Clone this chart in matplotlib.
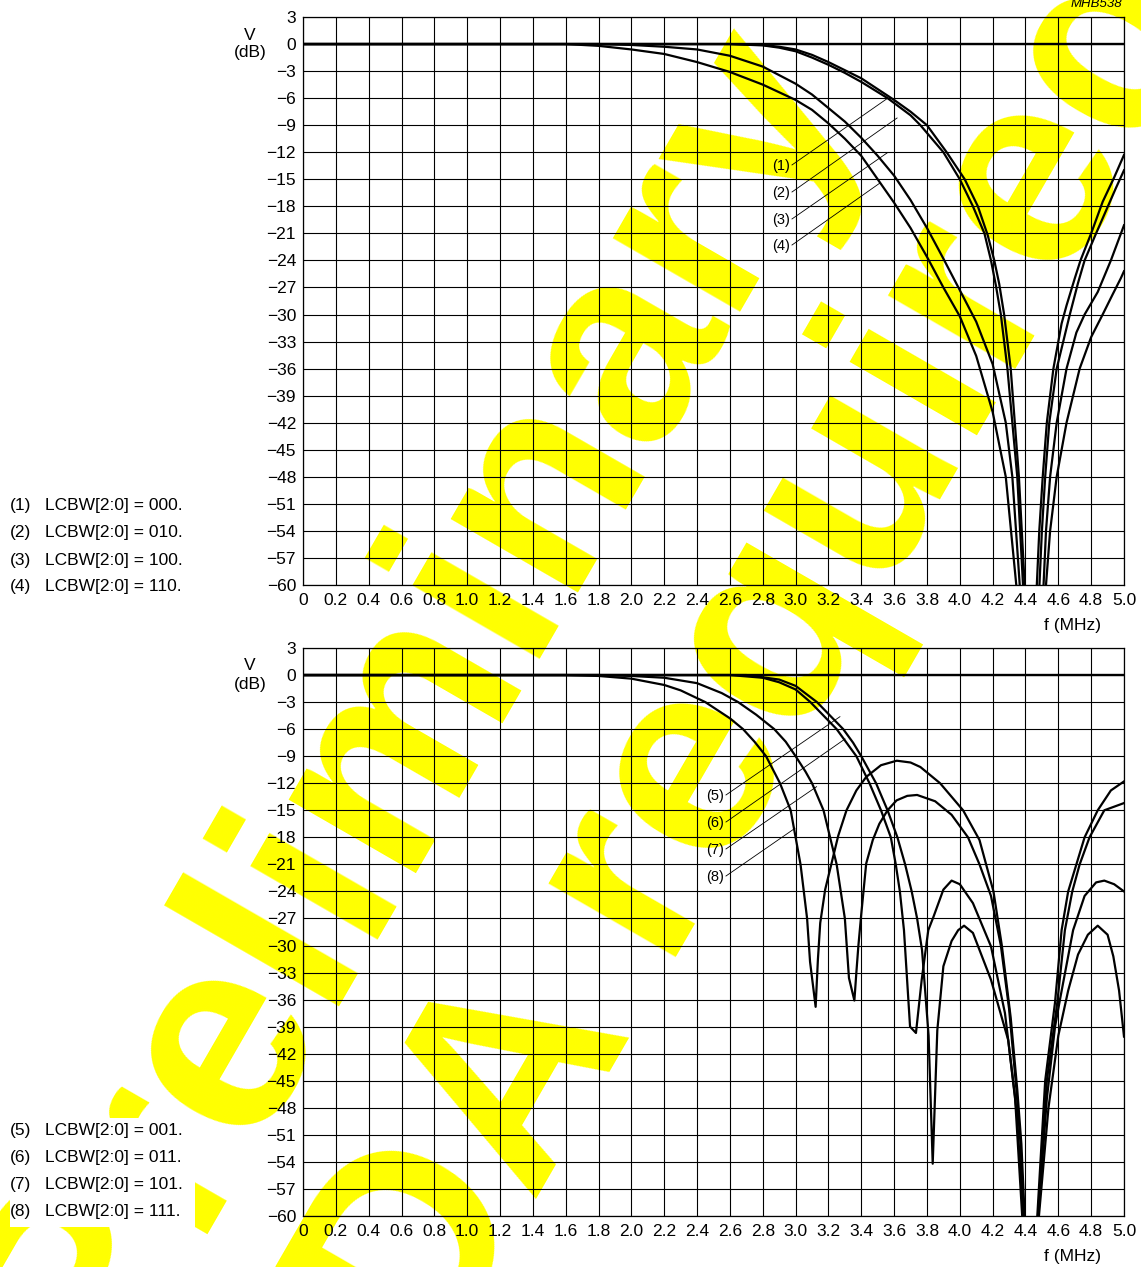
import numpy as np
import matplotlib
matplotlib.use("Agg")
import matplotlib.pyplot as plt
from matplotlib.patches import Rectangle

plt.rcParams['font.family'] = ['Liberation Sans', 'DejaVu Sans']

nan = np.nan

# Values: f in MHz, V in dB. nan marks the notch that drops below -60 dB.
# Upper graph
f1 = [0, 2.6, 2.8, 2.9, 3.0, 3.1, 3.2, 3.3, 3.4, 3.56, 3.7, 3.76, 3.9, 4.0, 4.08, 4.15, 4.19, 4.22, 4.25, 4.29, 4.32, 4.35, 4.385,
      nan, 4.485, 4.50, 4.52, 4.545, 4.59, 4.67, 4.72, 4.76, 4.83, 4.89, 4.95, 5.0]
v1 = [0, 0, -0.15, -0.4, -0.8, -1.5, -2.3, -3.2, -4.2, -6.0, -7.9, -9.0, -12.0, -15.0, -18.0, -21.0, -24.0, -26.8, -30.0, -36.0, -42.0, -48.0, -60,
      nan, -60, -54, -48, -42, -36, -30, -26.5, -24, -21, -18.5, -16, -14.0]

f2 = [0, 2.6, 2.8, 2.9, 3.0, 3.1, 3.2, 3.3, 3.4, 3.5, 3.6, 3.7, 3.8, 3.92, 4.03, 4.11, 4.17, 4.21, 4.24, 4.27, 4.31, 4.335, 4.36, 4.395,
      nan, 4.469, 4.484, 4.505, 4.53, 4.57, 4.62, 4.65, 4.70, 4.735, 4.80, 4.87, 4.94, 5.0]
v2 = [0, 0, -0.1, -0.3, -0.6, -1.2, -2.0, -2.9, -3.8, -5.0, -6.2, -7.5, -9.0, -12.0, -15.0, -18.0, -21.2, -24.0, -26.6, -30.0, -36.0, -42.0, -48.0, -60,
      nan, -60, -54, -48, -42, -36, -31, -29, -26, -24, -21, -17.5, -14.8, -12.3]

f3 = [0, 1.8, 2.0, 2.2, 2.4, 2.6, 2.8, 3.0, 3.1, 3.2, 3.3, 3.4, 3.5, 3.6, 3.7, 3.8, 3.9, 4.0, 4.1, 4.2, 4.28, 4.32, 4.365,
      nan, 4.51, 4.525, 4.55, 4.59, 4.65, 4.71, 4.76, 4.84, 4.92, 5.0]
v3 = [0, 0, -0.1, -0.3, -0.6, -1.3, -2.5, -4.4, -5.6, -7.1, -8.6, -10.4, -12.4, -14.6, -17.3, -20.4, -23.8, -27.3, -30.8, -35.5, -42, -48, -60,
      nan, -60, -54, -48, -42, -36, -32, -30, -27.5, -24, -20.1]

f4 = [0, 1.6, 1.8, 2.0, 2.2, 2.4, 2.6, 2.8, 3.0, 3.1, 3.2, 3.3, 3.4, 3.5, 3.6, 3.7, 3.8, 3.9, 4.0, 4.1, 4.2, 4.28, 4.344,
      nan, 4.525, 4.55, 4.59, 4.65, 4.73, 4.8, 4.87, 4.93, 4.98, 5.0]
v4 = [0, 0, -0.2, -0.6, -1.1, -2.0, -3.1, -4.5, -6.2, -7.3, -8.8, -10.5, -12.4, -15.0, -17.6, -20.4, -23.6, -27.0, -30.2, -34.6, -40.8, -48.0, -60,
      nan, -60, -54, -48, -42, -36, -32.5, -30, -27.8, -26, -25.2]

# Lower graph
f5 = [0, 2.7, 2.9, 3.0, 3.13, 3.21, 3.29, 3.35, 3.40, 3.49, 3.56, 3.62, 3.667, 3.707, 3.74, 3.77, 3.81, 3.835, 3.863, 3.90,
      3.95, 3.99, 4.026, 4.08, 4.19, 4.295, 4.347, 4.387,
      nan, 4.482, 4.54, 4.6, 4.66, 4.72, 4.78, 4.84, 4.9, 4.935, 4.97, 5.0]
v5 = [0, 0, -0.5, -1.2, -3.0, -4.5, -6.0, -7.5, -9.0, -12.0, -15.0, -18.0, -21.0, -24.0, -27.0, -30.5, -40.0, -54.2, -39.4, -32.3,
      -29.5, -28.3, -27.8, -28.6, -33.8, -40.5, -48.6, -60,
      nan, -60, -48, -40, -35, -31, -28.8, -27.8, -28.8, -31.2, -35, -40.1]

f6 = [0, 2.6, 2.8, 2.9, 3.0, 3.09, 3.17, 3.25, 3.31, 3.37, 3.45, 3.52, 3.58, 3.61, 3.635, 3.66, 3.697, 3.733, 3.768, 3.808,
      3.84, 3.90, 3.95, 4.0, 4.08, 4.19, 4.275, 4.336, 4.38,
      nan, 4.478, 4.53, 4.58, 4.61, 4.69, 4.76, 4.83, 4.88, 4.94, 5.0]
v6 = [0, 0, -0.3, -0.8, -1.6, -3.0, -4.5, -6.0, -7.5, -9.0, -12.0, -15.0, -18.0, -21.0, -24.0, -28.3, -39.0, -39.7, -33.8, -28.3,
      -26.8, -23.8, -22.8, -23.2, -25.3, -30.1, -37.5, -46.7, -60,
      nan, -60, -47, -39, -36, -28.3, -24.5, -23.0, -22.8, -23.2, -24.0]

f7 = [0, 1.8, 2.0, 2.2, 2.4, 2.55, 2.65, 2.76, 2.87, 2.94, 3.0, 3.06, 3.1, 3.17, 3.21, 3.25, 3.3, 3.325, 3.358, 3.37, 3.382,
      3.40, 3.43, 3.47, 3.51, 3.56, 3.615, 3.68, 3.74, 3.85, 3.95, 4.05, 4.12, 4.19, 4.25, 4.3, 4.345, 4.37, 4.39,
      nan, 4.476, 4.53, 4.594, 4.64, 4.685, 4.73, 4.79, 4.88, 5.0]
v7 = [0, 0, -0.1, -0.3, -0.9, -2.0, -3.0, -4.4, -6.0, -7.4, -9.0, -10.7, -12.0, -15.0, -18.0, -21.0, -27.0, -33.6, -36.1, -33.0, -30.1,
      -26.5, -20.9, -18.3, -16.5, -15.0, -13.9, -13.4, -13.3, -14.0, -15.5, -18.0, -21.0, -24.5, -30, -37, -46, -52, -60,
      nan, -60, -45, -36.3, -28.3, -24, -21, -18, -15, -14.2]

f8 = [0, 1.6, 1.8, 2.0, 2.2, 2.3, 2.45, 2.6, 2.68, 2.75, 2.82, 2.905, 2.97, 3.0, 3.03, 3.07, 3.088, 3.122, 3.136, 3.15,
      3.18, 3.22, 3.26, 3.31, 3.37, 3.43, 3.52, 3.616, 3.7, 3.76, 3.88, 4.02, 4.12, 4.205, 4.256, 4.31, 4.35, 4.375, 4.395,
      nan, 4.472, 4.52, 4.58, 4.62, 4.66, 4.71, 4.76, 4.84, 4.92, 5.0]
v8 = [0, 0, -0.1, -0.4, -1.1, -1.7, -3.0, -4.8, -6.0, -7.4, -9.0, -12.0, -15.0, -18.0, -21.0, -27.0, -31.8, -36.8, -31.5, -27.5,
      -23.8, -20.8, -17.8, -15.0, -12.8, -11.3, -10.0, -9.5, -9.7, -10.2, -12.0, -15.0, -18.3, -24, -30, -38, -46, -52, -60,
      nan, -60, -45, -36.3, -28.3, -24, -21, -18, -15, -12.8, -11.8]

top_curves = [(f1, v1), (f2, v2), (f3, v3), (f4, v4)]
bottom_curves = [(f5, v5), (f6, v6), (f7, v7), (f8, v8)]

top_legend = ["000", "010", "100", "110"]
bottom_legend = ["001", "011", "101", "111"]

W, H = 1141, 1267
fig = plt.figure(figsize=(W / 100, H / 100), dpi=100)


def px(x, y):
    # pixel position (from top-left) -> figure fraction
    return x / W, 1 - y / H


def setup(ax):
    ax.set_xlim(0, 5)
    ax.set_ylim(-60, 3)
    xt = np.round(np.arange(0, 5.001, 0.2), 1)
    ax.set_xticks(xt)
    ax.set_xticklabels(["0"] + [f"{v:.1f}" for v in xt[1:]])
    yt = np.arange(-60, 4, 3)
    ax.set_yticks(yt)
    ax.set_yticklabels([str(v).replace("-", "\u2212") for v in yt])
    ax.grid(True, color="black", lw=0.8)
    ax.axhline(0, color="black", lw=1.7, zorder=3)
    ax.tick_params(length=0, labelsize=12.5)
    ax.tick_params(axis="y", pad=5)
    ax.tick_params(axis="x", pad=6)
    ax.patch.set_alpha(0)
    for s in ax.spines.values():
        s.set_linewidth(0.9)
    ax.set_axisbelow(True)


ax1 = fig.add_axes([303 / W, 1 - 585 / H, 821 / W, 568 / H])
ax2 = fig.add_axes([303 / W, 1 - 1216 / H, 821 / W, 568 / H])
for ax in (ax1, ax2):
    setup(ax)

for f, v in top_curves:
    ax1.plot(f, v, color="black", lw=1.6, zorder=4)
for f, v in bottom_curves:
    ax2.plot(f, v, color="black", lw=1.6, zorder=4)

# curve labels with leader lines
top_leaders = [((2.978, -13.41), (3.563, -5.98)), ((2.978, -16.41), (3.618, -8.20)),
               ((2.978, -19.40), (3.557, -12.08)), ((2.978, -22.29), (3.514, -15.41))]
for i, (a, b) in enumerate(top_leaders):
    ax1.plot([a[0], b[0]], [a[1], b[1]], color="black", lw=0.6, zorder=4)
    ax1.text(a[0] - 0.015, a[1] - 0.1, f"({i + 1})", ha="right", va="center", fontsize=10.5)

bottom_leaders = [((2.576, -13.30), (3.270, -4.62)), ((2.576, -16.30), (3.301, -7.09)),
                  ((2.576, -19.29), (3.128, -12.38)), ((2.576, -22.29), (2.996, -17.0))]
for i, (a, b) in enumerate(bottom_leaders):
    ax2.plot([a[0], b[0]], [a[1], b[1]], color="black", lw=0.6, zorder=4)
    ax2.text(a[0] - 0.015, a[1] - 0.1, f"({i + 5})", ha="right", va="center", fontsize=10.5)

# axis labels
for y0 in (0, 631):
    fig.text(*px(250, 35 + y0), "V", ha="center", va="center", fontsize=12.5)
    fig.text(*px(250, 53 + y0), "(dB)", ha="center", va="center", fontsize=12.5)
    fig.text(*px(1073, 626 + y0), "f (MHz)", ha="center", va="center", fontsize=12.5)
fig.text(*px(1122, 4), "MHB538", ha="right", va="center", fontsize=9.5, style="italic")

# legends
fig.add_artist(Rectangle(px(10, 1227), 185 / W, 109 / H, transform=fig.transFigure,
                         facecolor="white", edgecolor="none", zorder=-1))
for i, code in enumerate(top_legend):
    y = 506 + 27 * i
    fig.text(*px(10, y), f"({i + 1})", va="center", fontsize=12.5)
    fig.text(*px(45, y), f"LCBW[2:0] = {code}.", va="center", fontsize=12.5)
for i, code in enumerate(bottom_legend):
    y = 1131 + 26.7 * i
    fig.text(*px(10, y), f"({i + 5})", va="center", fontsize=12.5)
    fig.text(*px(45, y), f"LCBW[2:0] = {code}.", va="center", fontsize=12.5)

# yellow watermark
wm = dict(rotation=60, rotation_mode="anchor", ha="left", va="baseline",
          fontsize=200, fontweight="bold", color="#ffff00", zorder=-2)
fig.text(*px(97, 1394), "Preliminary", **wm)
fig.text(*px(333, 1552), "NDA required", **wm)

fig.savefig("out.png", dpi=100)
